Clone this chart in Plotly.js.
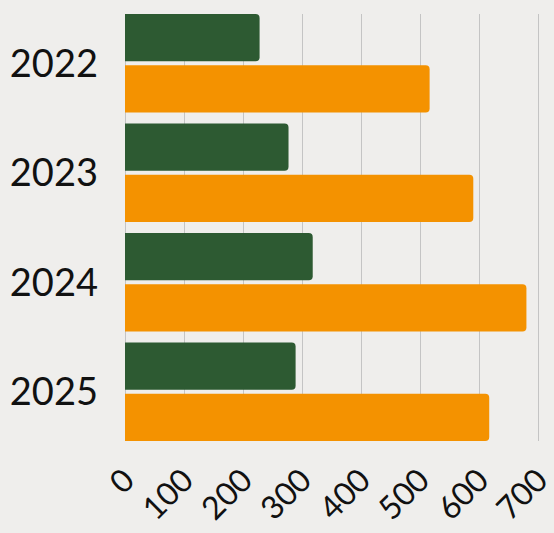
<!DOCTYPE html>
<html>
<head>
<meta charset="utf-8">
<script src="https://cdn.plot.ly/plotly-3.0.1.min.js"></script>
<style>html,body{margin:0;padding:0;background:#efeeec;}#chart{width:554px;height:533px;}</style>
</head>
<body>
<div id="chart"></div>
<script>
const years = ["2022", "2023", "2024", "2025"];
const seriesA = [228, 277, 318, 289];
const seriesB = [516, 590, 680, 617];
const xTicks = [0, 100, 200, 300, 400, 500, 600, 700];

const data = [
  {type: "bar", orientation: "h", y: years, x: seriesA, marker: {color: "#2d5a32"}, name: "A"},
  {type: "bar", orientation: "h", y: years, x: seriesB, marker: {color: "#f49200"}, name: "B"}
];
const layout = {
  width: 554, height: 533,
  margin: {l: 125, r: 14, t: 14, b: 92},
  paper_bgcolor: "#efeeec", plot_bgcolor: "#efeeec",
  showlegend: false,
  barmode: "group",
  bargap: 0.064, bargroupgap: 0.078,
  barcornerradius: 4,
  font: {family: "Lato, sans-serif", color: "#111"},
  xaxis: {
    range: [0, 703], tickmode: "array", tickvals: xTicks, ticktext: xTicks.map(String),
    tickangle: -45, tickfont: {size: 32}, ticklabeloverflow: "allow",
    ticklabelstandoff: 13,
    showgrid: true, gridcolor: "#c4c4c4", gridwidth: 1,
    zeroline: true, zerolinecolor: "#c4c4c4", zerolinewidth: 1,
    automargin: false, fixedrange: true
  },
  yaxis: {
    type: "category",
    range: [3.45, -0.45], tickfont: {size: 38},
    ticklabelstandoff: 26, showgrid: false, zeroline: false,
    automargin: false
  }
};
Plotly.newPlot("chart", data, layout, {displayModeBar: false, staticPlot: true});
</script>
</body>
</html>
